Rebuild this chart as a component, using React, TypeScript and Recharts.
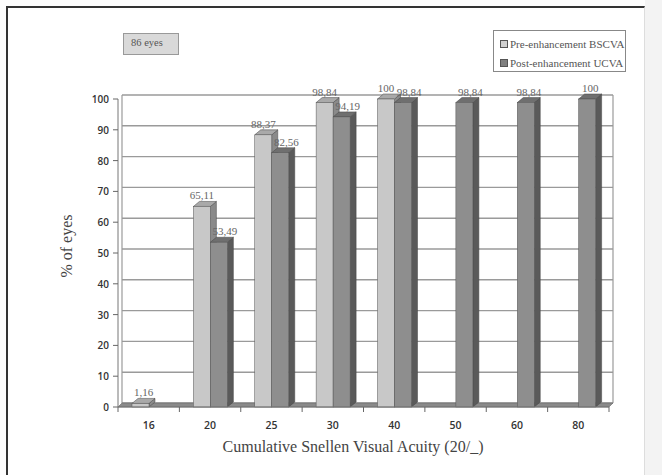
import { BarChart, Bar, XAxis, YAxis, CartesianGrid, LabelList, Legend, Customized } from "recharts";

const categories = ["16", "20", "25", "30", "40", "50", "60", "80"];
const preBSCVA = [1.16, 65.11, 88.37, 98.84, 100, null, null, null];
const postUCVA = [null, 53.49, 82.56, 94.19, 98.84, 98.84, 98.84, 100];
const yTicks = [0, 10, 20, 30, 40, 50, 60, 70, 80, 90, 100];

const data = categories.map((c, i) => ({ cat: c, pre: preBSCVA[i], post: postUCVA[i] }));

const W = 662;
const H = 475;
const PLOT_L = 118;
const PLOT_R = 609;
const PLOT_T = 99;
const PLOT_B = 407;
const YAXIS_W = 40;
const XAXIS_H = 30;
const BAND = (PLOT_R - PLOT_L) / categories.length;
const DX = 6; // bar depth
const DY = 5;
const WX = 4; // back wall offset
const WY = 4;

const serif = "'Liberation Serif', 'Times New Roman', serif";
const sans = "'Open Sans', 'DejaVu Sans', sans-serif";

const fmt = (v: any) => String(v).replace(".", ",");

function make3DBar(front: string, top: string, side: string) {
  return (props: any) => {
    const { x, y, width, height } = props;
    if (height == null || isNaN(height) || width <= 0) return null;
    const h = Math.max(height, 0);
    return (
      <g>
        <polygon
          points={`${x + width},${y} ${x + width + DX},${y - DY} ${x + width + DX},${y + h - DY} ${x + width},${y + h}`}
          fill={side} stroke="#444" strokeWidth={0.5}
        />
        <polygon
          points={`${x},${y} ${x + DX},${y - DY} ${x + width + DX},${y - DY} ${x + width},${y}`}
          fill={top} stroke="#444" strokeWidth={0.5}
        />
        <rect x={x} y={y} width={width} height={h} fill={front} stroke="#555" strokeWidth={0.5} />
      </g>
    );
  };
}

const PreShape = make3DBar("#c8c8c8", "#a9a9a9", "#8a8a8a");
const PostShape = make3DBar("#8e8e8e", "#6f6f6f", "#5a5a5a");

// labels sit over the bar's 3D centre, pushed apart when both bars of a group exist
function makeLabel(series: "pre" | "post") {
  return (props: any) => {
    const { x, y, width, value, index } = props;
    if (value == null) return null;
    const other = series === "pre" ? postUCVA[index] : preBSCVA[index];
    let dx = DX / 2;
    if (other != null) dx = series === "pre" ? 0 : DX;
    return (
      <text x={x + width / 2 + dx} y={y - DY - 2} textAnchor="middle" fontFamily={serif} fontSize={11} fill="#666">
        {fmt(value)}
      </text>
    );
  };
}

function Floor() {
  return (
    <g>
      <line x1={PLOT_L + WX} y1={PLOT_T - WY} x2={PLOT_L + WX} y2={PLOT_B - WY} stroke="#9a9a9a" strokeWidth={1.2} />
      <line x1={PLOT_R + WX} y1={PLOT_T - WY} x2={PLOT_R + WX} y2={PLOT_B - WY} stroke="#9a9a9a" strokeWidth={1.2} />
      <polygon
        points={`${PLOT_L},${PLOT_B} ${PLOT_L + WX},${PLOT_B - WY} ${PLOT_R + WX},${PLOT_B - WY} ${PLOT_R},${PLOT_B}`}
        fill="#8a8a8a" stroke="#666" strokeWidth={0.6}
      />
    </g>
  );
}

function XTick(props: any) {
  const { x, y, payload, index } = props;
  return (
    <g>
      <line x1={x - BAND / 2} y1={PLOT_B} x2={x - BAND / 2} y2={PLOT_B + 5} stroke="#666" />
      {index === categories.length - 1 && (
        <line x1={x + BAND / 2} y1={PLOT_B} x2={x + BAND / 2} y2={PLOT_B + 5} stroke="#666" />
      )}
      <text x={x} y={y + 14} textAnchor="middle" fontFamily={sans} fontWeight={600} fontSize={10.5} fill="#333">
        {payload.value}
      </text>
    </g>
  );
}

function YTick(props: any) {
  const { x, y, payload } = props;
  return (
    <text x={x - 2} y={y + 4} textAnchor="end" fontFamily={sans} fontWeight={600} fontSize={10} fill="#333">
      {payload.value}
    </text>
  );
}

function LegendBox() {
  const items = [
    { name: "Pre-enhancement BSCVA", color: "#d0d0d0" },
    { name: "Post-enhancement UCVA", color: "#808080" },
  ];
  return (
    <div style={{ width: 133, height: 42, border: "1px solid #888", background: "#fff", boxSizing: "border-box", padding: "3px 0 0 6px" }}>
      {items.map((it) => (
        <div key={it.name} style={{ display: "flex", alignItems: "center", height: 19, fontFamily: serif, fontSize: 11, color: "#555", whiteSpace: "nowrap" }}>
          <span style={{ display: "inline-block", width: 6, height: 6, background: it.color, border: "1px solid #555", marginRight: 2 }} />
          {it.name}
        </div>
      ))}
    </div>
  );
}

export default function App() {
  return (
    <div style={{ position: "absolute", left: 0, top: 0, width: W, height: H, background: "#fdfdfd", overflow: "hidden" }}>
      <div style={{ position: "absolute", left: 645, top: 0, width: 17, height: H, background: "#f3f3f3" }} />
      <div
        style={{
          position: "absolute", left: 6, top: 6, width: 639, height: H + 10,
          borderLeft: "2px solid #333", borderTop: "2px solid #333", borderRight: "1px solid #ddd",
          boxSizing: "border-box", background: "#fff",
        }}
      />
      <div
        style={{
          position: "absolute", left: 123, top: 33, width: 56, height: 22, background: "#d9d9d9",
          border: "1px solid #999", boxSizing: "border-box", fontFamily: serif, fontSize: 10.5, color: "#555",
          padding: "3px 0 0 7px",
        }}
      >
        86 eyes
      </div>
      <div style={{ position: "absolute", left: 0, top: 0 }}>
        <BarChart
          width={W}
          height={H}
          data={data}
          margin={{ top: PLOT_T, right: W - PLOT_R, bottom: H - PLOT_B - XAXIS_H, left: PLOT_L - YAXIS_W }}
          barSize={17}
          barGap={0}
        >
          <CartesianGrid
            vertical={false}
            horizontalPoints={yTicks.map((t) => PLOT_B - (t / 100) * (PLOT_B - PLOT_T))}
            horizontal={(p: any) => (
              <line key={p.key} x1={p.x1 + WX} y1={p.y1 - WY} x2={p.x2 + WX} y2={p.y2 - WY} stroke="#9a9a9a" strokeWidth={1.4} />
            )}
          />
          <Customized component={Floor} />
          <XAxis
            dataKey="cat"
            height={XAXIS_H}
            axisLine={{ stroke: "#777" }}
            tickLine={false}
            tick={<XTick />}
            interval={0}
            label={{
              content: () => (
                <text x={353} y={452} textAnchor="middle" fontFamily={serif} fontSize={16} fill="#444">
                  Cumulative Snellen Visual Acuity (20/_)
                </text>
              ),
            }}
          />
          <YAxis
            width={YAXIS_W}
            domain={[0, 100]}
            ticks={yTicks}
            interval={0}
            axisLine={{ stroke: "#777" }}
            tickLine={{ stroke: "#666" }}
            tickSize={5}
            tick={<YTick />}
            label={{
              content: () => (
                <text x={72} y={246} transform="rotate(-90 72 246)" textAnchor="middle" fontFamily={serif} fontSize={16} fill="#444">
                  % of eyes
                </text>
              ),
            }}
          />
          <Legend
            layout="vertical"
            align="center"
            verticalAlign="middle"
            wrapperStyle={{ left: 493, top: 30, width: 133, height: 42 }}
            content={() => <LegendBox />}
          />
          <Bar dataKey="pre" name="Pre-enhancement BSCVA" fill="#c8c8c8" shape={PreShape} isAnimationActive={false}>
            <LabelList dataKey="pre" content={makeLabel("pre")} />
          </Bar>
          <Bar dataKey="post" name="Post-enhancement UCVA" fill="#8e8e8e" shape={PostShape} isAnimationActive={false}>
            <LabelList dataKey="post" content={makeLabel("post")} />
          </Bar>
        </BarChart>
      </div>
    </div>
  );
}
